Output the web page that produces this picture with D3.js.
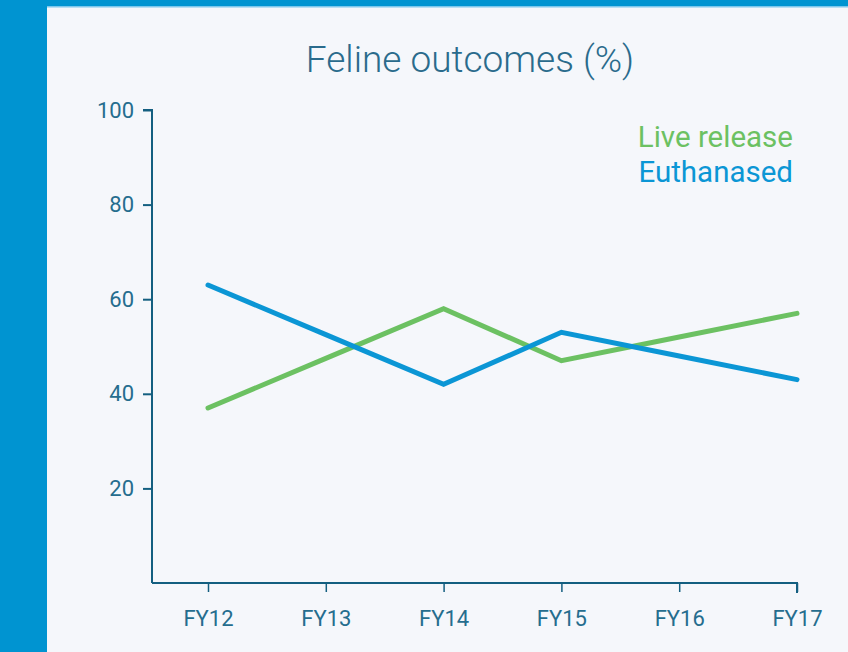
<!DOCTYPE html>
<html><head><meta charset="utf-8">
<script src="https://cdn.jsdelivr.net/npm/d3@7/dist/d3.min.js"></script>
<style>
html,body{margin:0;padding:0;background:#0094d1;}
svg{display:block;font-family:Roboto,"Noto Sans",sans-serif;}
</style></head>
<body>
<svg id="c" width="848" height="652"></svg>
<script>
const categories = ["FY12","FY13","FY14","FY15","FY16","FY17"];
const liveRelease = [37, 47.5, 58, 47, 52, 57];
const euthanased = [63, 52.5, 42, 53, 48, 43];
const yTicks = [20, 40, 60, 80, 100];
const seriesNames = ["Live release", "Euthanased"];
const seriesColors = ["#6cc162", "#0b96d5"];
const titleText = "Feline outcomes (%)";

const svg = d3.select("#c");
// frame
svg.append("rect").attr("width",848).attr("height",652).attr("fill","#0094d1");
svg.append("rect").attr("x",47).attr("y",6).attr("width",801).attr("height",646).attr("fill","#f5f7fb");
svg.append("rect").attr("x",47).attr("y",6).attr("width",801).attr("height",1.5).attr("fill","#7dc7ec");

const axisColor = "#145f80";
const labelColor = "#256d8e";

const x = d3.scalePoint().domain(categories).range([208, 797]);
const y = d3.scaleLinear().domain([0, 100]).range([583, 110]);

// title
svg.append("text").attr("x", 470).attr("y", 72).attr("text-anchor","middle")
  .attr("font-size", 37).attr("font-weight", 300).attr("fill", "#2a6b8c").text(titleText);

// y axis
const gy = svg.append("g").attr("transform","translate(152,0)")
  .call(d3.axisLeft(y).tickValues(yTicks).tickSize(9).tickPadding(9).tickFormat(d3.format("d")));
gy.select(".domain").attr("d", "M-9,110V110H0V583").attr("stroke", axisColor).attr("stroke-width", 2).attr("fill","none");
gy.selectAll(".tick line").attr("stroke", axisColor).attr("stroke-width", 2);
gy.selectAll(".tick text").attr("fill", labelColor).attr("font-size", 22).attr("font-family","Roboto");

// x axis
const gx = svg.append("g").attr("transform","translate(0,583)")
  .call(d3.axisBottom(x).tickSize(9).tickPadding(18));
gx.select(".domain").attr("d", "M152,0H797V10").attr("stroke", axisColor).attr("stroke-width", 2).attr("fill","none");
gx.selectAll(".tick line").attr("stroke", axisColor).attr("stroke-width", 1.5);
gx.selectAll(".tick text").attr("fill", labelColor).attr("font-size", 22).attr("font-family","Roboto");

// lines
const line = d3.line().x((d,i) => x(categories[i])).y(d => y(d));
[liveRelease, euthanased].forEach((vals, k) => {
  svg.append("path").datum(vals).attr("d", line).attr("fill","none")
    .attr("stroke", seriesColors[k]).attr("stroke-width", 5)
    .attr("stroke-linecap","round").attr("stroke-linejoin","miter");
});

// legend
seriesNames.forEach((n, k) => {
  svg.append("text").attr("x", 793).attr("y", 147 + k*35).attr("text-anchor","end")
    .attr("font-size", 29.5).attr("fill", seriesColors[k]).text(n);
});
</script>
</body></html>
